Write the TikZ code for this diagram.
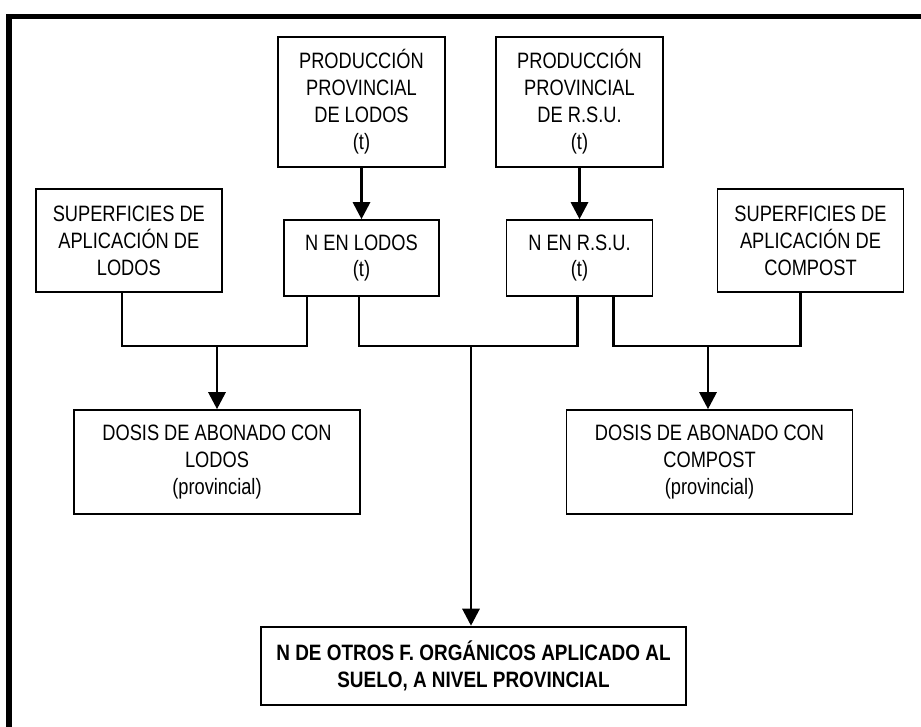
\documentclass[tikz,border=0pt]{standalone}
\usepackage{fontspec}
\setmainfont{Liberation Sans}[FakeStretch=0.82, BoldFeatures={FakeStretch=0.85}]
\usetikzlibrary{positioning, arrows.meta}
\tikzstyle{process} = [rectangle, 
inner sep=0pt, 
align=center, 
draw=black, 
line width=1.4pt, 
font=\fontsize{19}{23}\selectfont]
\tikzstyle{result} = [process, 
line width=2.2pt, 
font=\bfseries\fontsize{19}{23}\selectfont]
\tikzstyle{link} = [line width=1.8pt]
\tikzstyle{arrow} = [line width=2.5pt,-{Triangle[length=0.51cm,width=0.51cm]}]
\tikzstyle{frame} = [line width=4.3pt]

\begin{document}
\begin{tikzpicture}[x=0.03cm, y=-0.03cm, node distance=4.68cm]
\useasboundingbox (0,0) rectangle (921,727);

\node (prodL) [process, minimum width=5.01cm, minimum height=3.9cm] at (361.5,102) {PRODUCCIÓN\\PROVINCIAL\\DE LODOS\\(t)};
\node (nL) [process, below of=prodL, minimum width=4.65cm, minimum height=2.28cm] {N EN LODOS\\(t)};
\node (prodR) [process, right of=prodL, xshift=1.86cm, minimum width=5.01cm, minimum height=3.9cm] {PRODUCCIÓN\\PROVINCIAL\\DE R.S.U.\\(t)};
\node (nR) [process, below of=prodR, minimum width=4.38cm, minimum height=2.28cm] {N EN R.S.U.\\(t)};
\node (supL) [process, left of=nL, xshift=-2.3cm, yshift=0.525cm, minimum width=5.58cm, minimum height=3.09cm] {SUPERFICIES DE\\APLICACIÓN DE\\LODOS};
\node (supC) [process, right of=nR, xshift=2.25cm, yshift=0.525cm, minimum width=5.58cm, minimum height=3.09cm] {SUPERFICIES DE\\APLICACIÓN DE\\COMPOST};
\node (dosL) [process, below of=nL, xshift=-4.335cm, yshift=-1.44cm, minimum width=8.58cm, minimum height=3.12cm] {DOSIS DE ABONADO CON\\LODOS\\(provincial)};
\node (dosC) [process, below of=nR, xshift=3.9cm, yshift=-1.44cm, minimum width=8.58cm, minimum height=3.12cm] {DOSIS DE ABONADO CON\\COMPOST\\(provincial)};
\node (final) [result, below of=dosL, xshift=7.695cm, yshift=-1.44cm, minimum width=12.75cm, minimum height=2.34cm] {N DE OTROS F. ORGÁNICOS APLICADO AL\\SUELO, A NIVEL PROVINCIAL};

\coordinate (jL) at (217,346);
\coordinate (jM) at (471,346);
\coordinate (jR) at (708,346);

\draw [frame] (9,727) |- (921,16.5);

\draw [arrow] (prodL) -- (nL);
\draw [arrow] (prodR) -- (nR);
\draw [link] ([xshift=-0.21cm]supL.south) |- (jL) -| ([xshift=-1.635cm]nL.south);
\draw [link] ([xshift=-0.075cm]nL.south) |- (jM) -| ([xshift=-0.06cm]nR.south);
\draw [link] ([xshift=1.02cm]nR.south) |- (jR) -| ([xshift=-0.3cm]supC.south);
\draw [arrow] (jL) -- (jL |- dosL.north);
\draw [arrow] (jM) -- (jM |- final.north);
\draw [arrow] (jR) -- (jR |- dosC.north);

\end{tikzpicture}
\end{document}
